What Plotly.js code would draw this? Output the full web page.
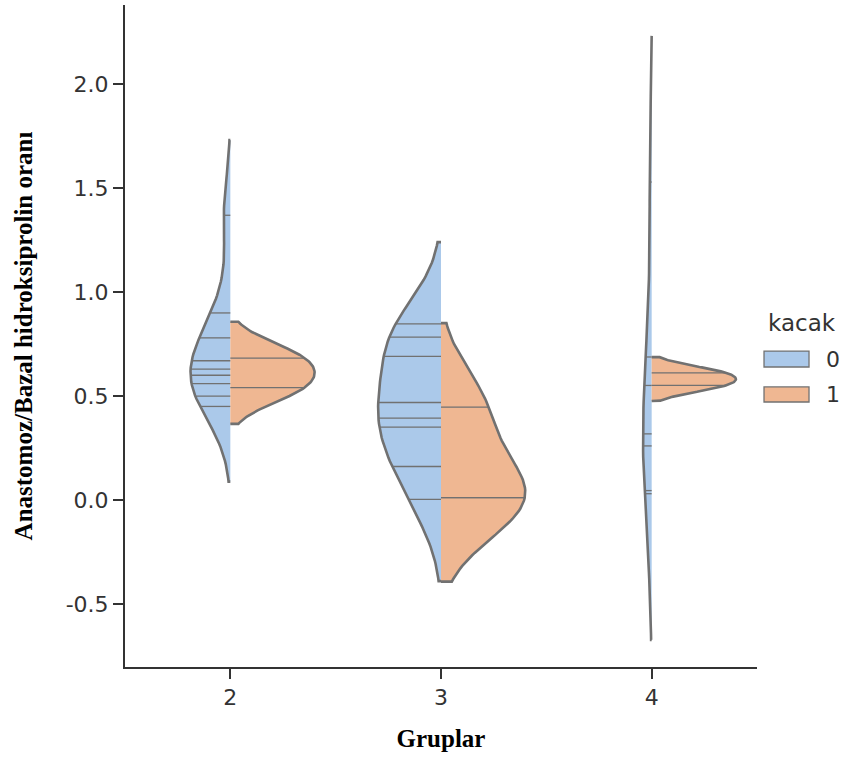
<!DOCTYPE html>
<html>
<head>
<meta charset="utf-8">
<script src="https://cdn.plot.ly/plotly-3.0.0.min.js"></script>
<style>body{margin:0;background:#fff}#chart{width:849px;height:757px}</style>
</head>
<body>
<div id="chart"></div>
<script>
// ---- data ----
const groups = ['2', '3', '4'];
const hueLevels = ['0', '1'];
const legendTitle = 'kacak';
const group2_kacak0 = [1.37, 0.90, 0.78, 0.67, 0.63, 0.60, 0.56, 0.50, 0.45];
const group2_kacak1 = [0.683, 0.541];
const group3_kacak0 = [0.847, 0.784, 0.691, 0.469, 0.394, 0.350, 0.161, 0.003];
const group3_kacak1 = [0.447, 0.011, 0.011];
const group4_kacak0 = [1.53, 0.688, 0.551, 0.318, 0.260, 0.045, 0.030];
const group4_kacak1 = [0.612, 0.551];
const yTickVals = [-0.5, 0.0, 0.5, 1.0, 1.5, 2.0];
const yTickText = ['-0.5', '0.0', '0.5', '1.0', '1.5', '2.0'];

const seriesByGroup = [
  [group2_kacak0, group2_kacak1],
  [group3_kacak0, group3_kacak1],
  [group4_kacak0, group4_kacak1]
];

// ---- style ----
const fillColors = ['#abc9ea', '#efb792'];
const gray = '#717171';
const textColor = '#333333';
const halfWidth = 0.4;
const cut = 2;
const gridsize = 100;

function fitKde(data) {
  const n = data.length;
  const mean = data.reduce((a, b) => a + b, 0) / n;
  const sd = Math.sqrt(data.reduce((a, b) => a + (b - mean) * (b - mean), 0) / (n - 1));
  const bw = Math.pow(n, -0.2) * sd;
  const dens = y => {
    let s = 0;
    for (const v of data) { const z = (y - v) / bw; s += Math.exp(-0.5 * z * z); }
    return s / (n * bw * Math.sqrt(2 * Math.PI));
  };
  const lo = Math.min(...data) - cut * bw, hi = Math.max(...data) + cut * bw;
  const ys = [], ds = [];
  for (let i = 0; i < gridsize; i++) {
    const y = lo + (hi - lo) * i / (gridsize - 1);
    ys.push(y); ds.push(dens(y));
  }
  return {ys, ds, dens, lo, hi};
}

const traces = [];
const stickTraces = [];
seriesByGroup.forEach((pair, gi) => {
  const fits = pair.map(fitKde);
  const gmax = Math.max(...fits.map(f => Math.max(...f.ds)));
  pair.forEach((data, hi) => {
    const f = fits[hi];
    const side = hi === 0 ? -1 : 1;
    const xs = [gi], ys = [f.lo];
    f.ys.forEach((y, i) => { xs.push(gi + side * f.ds[i] / gmax * halfWidth); ys.push(y); });
    xs.push(gi); ys.push(f.hi);
    traces.push({
      type: 'scatter', mode: 'lines', x: xs, y: ys,
      fill: 'toself', fillcolor: fillColors[hi],
      line: {color: gray, width: 2.6},
      name: hueLevels[hi], showlegend: false, hoverinfo: 'skip'
    });
    const sx = [], sy = [];
    data.forEach(v => {
      sx.push(gi, gi + side * f.dens(v) / gmax * halfWidth, null);
      sy.push(v, v, null);
    });
    stickTraces.push({
      type: 'scatter', mode: 'lines', x: sx, y: sy,
      line: {color: gray, width: 1.3}, showlegend: false, hoverinfo: 'skip'
    });
  });
});

// ---- legend (drawn as boxes + text, seaborn style) ----
const legendFont = {family: 'DejaVu Sans', size: 22, color: textColor};
const legendBoxes = [[0.4532, 0.4773], [0.4003, 0.4230]];
const shapes = hueLevels.map((h, i) => ({
  type: 'rect', xref: 'paper', yref: 'paper',
  x0: 1.0111, x1: 1.0823, y0: legendBoxes[i][0], y1: legendBoxes[i][1],
  fillcolor: fillColors[i], line: {color: gray, width: 1.3}
}));
const annotations = [
  {xref: 'paper', yref: 'paper', x: 1.0150, y: 0.5196, xanchor: 'left', yanchor: 'middle',
   text: legendTitle, showarrow: false, font: {family: 'DejaVu Sans', size: 23, color: textColor}}
].concat(hueLevels.map((h, i) => ({
  xref: 'paper', yref: 'paper', x: 1.1060, y: (legendBoxes[i][0] + legendBoxes[i][1]) / 2,
  xanchor: 'left', yanchor: 'middle', text: h, showarrow: false, font: legendFont
})));

const tickFont = {family: 'DejaVu Sans', size: 22, color: textColor};
const layout = {
  width: 849, height: 757,
  margin: {l: 125, r: 92, t: 5, b: 90},
  paper_bgcolor: '#ffffff', plot_bgcolor: '#ffffff',
  showlegend: false,
  shapes: shapes,
  annotations: annotations,
  xaxis: {
    range: [-0.5, 2.5], tickvals: [0, 1, 2], ticktext: groups,
    showgrid: false, zeroline: false, showline: true, linecolor: textColor, linewidth: 2,
    ticks: 'outside', ticklen: 10, tickwidth: 2, tickcolor: textColor, tickfont: tickFont,
    title: {text: 'Gruplar', font: {family: 'Liberation Serif', size: 25, color: '#000000', weight: 'bold'}, standoff: 20},
    fixedrange: true
  },
  yaxis: {
    range: [-0.804, 2.382], tickvals: yTickVals, ticktext: yTickText,
    showgrid: false, zeroline: false, showline: true, linecolor: textColor, linewidth: 2,
    ticks: 'outside', ticklen: 10, tickwidth: 2, tickcolor: textColor, tickfont: tickFont,
    title: {text: 'Anastomoz/Bazal hidroksiprolin oranı', font: {family: 'Liberation Serif', size: 25, color: '#000000', weight: 'bold'}, standoff: 26},
    fixedrange: true
  }
};

Plotly.newPlot('chart', traces.concat(stickTraces), layout, {displayModeBar: false, staticPlot: true});
</script>
</body>
</html>
